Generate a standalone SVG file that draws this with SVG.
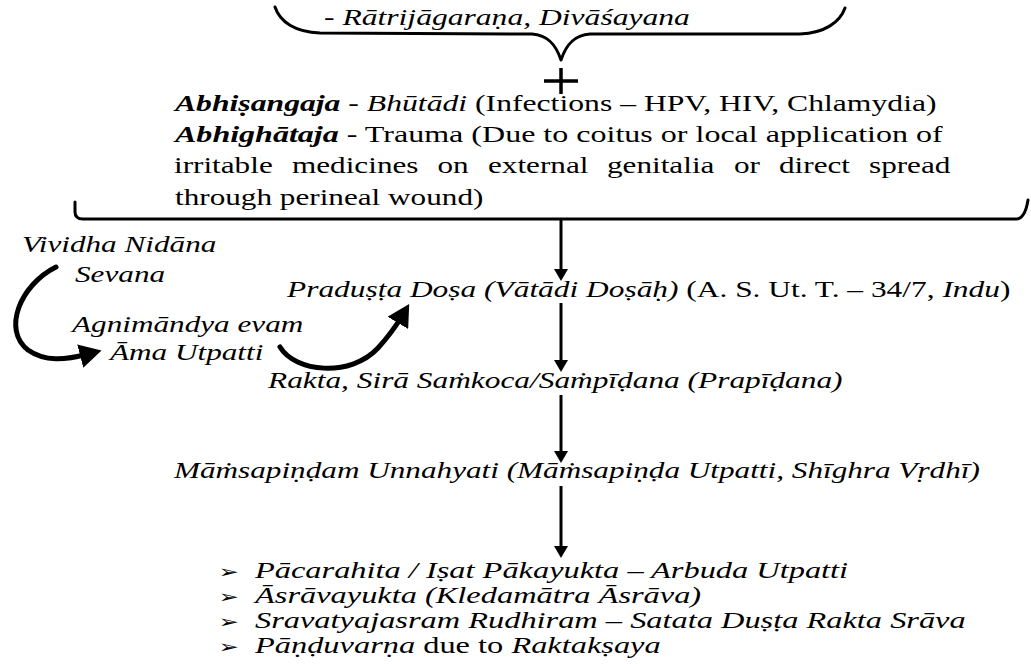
<svg xmlns="http://www.w3.org/2000/svg" width="1031" height="664" viewBox="0 0 1031 664">
<style>
.t{font-size:24px;fill:#000}
.i{font-style:italic}
.bi{font-weight:bold;font-style:italic}
.b{font-family:'DejaVu Sans';font-style:normal;font-size:18px}
.ln{stroke:#000;stroke-width:3;fill:none;stroke-linecap:round;stroke-linejoin:round}
.arr{stroke:#000;stroke-width:3;fill:none;marker-end:url(#ah)}
.carr{stroke:#000;stroke-width:5;fill:none;stroke-linecap:round;marker-end:url(#bh)}
</style>
<defs>
<marker id="ah" markerUnits="userSpaceOnUse" viewBox="0 0 12 14" refX="6" refY="7" markerWidth="12" markerHeight="14" orient="auto"><path d="M0,0 L12,7 L0,14 z" fill="#000"/></marker>
<marker id="bh" markerUnits="userSpaceOnUse" viewBox="0 0 22 24" refX="8" refY="12" markerWidth="22" markerHeight="24" orient="auto"><path d="M0,0 L22,12 L0,24 z" fill="#000"/></marker>
</defs>
<rect width="1031" height="664" fill="#fff"/>

<g id="braces">
<path class="ln" d="M275,7 C280,22 295,32 320,33 L532,34 C548,35 556,45 561,60 C566,45 574,35 590,34 L800,34 C825,33 840,22 845,8"/>
<path class="ln" d="M75,202 L75,212 Q75,219 83,219 L1016,219 Q1025,219 1028,200"/>
</g>

<g id="n-top">
<text class="t" font-family="Liberation Serif" transform="translate(324 25) scale(1.317 1)">- <tspan class="i">Rātrijāgaraṇa, Divāśayana</tspan></text>
</g>

<g id="n-plus">
<path d="M544,81 H578 M561,68 V94" stroke="#000" stroke-width="3.5" fill="none"/>
</g>

<g id="n-causes">
<text class="t" font-family="Liberation Serif" transform="translate(175 111) scale(1.32 1)"><tspan class="bi">Abhiṣangaja</tspan> - <tspan class="i">Bhūtādi</tspan> (Infections – HPV, HIV, Chlamydia)</text>
<text class="t" font-family="Liberation Serif" transform="translate(175 142) scale(1.335 1)"><tspan class="bi">Abhighātaja</tspan> - Trauma (Due to coitus or local application of</text>
<text class="t" font-family="Liberation Serif" transform="translate(174 173) scale(1.3 1)">irritable</text>
<text class="t" font-family="Liberation Serif" transform="translate(292 173) scale(1.3 1)">medicines</text>
<text class="t" font-family="Liberation Serif" transform="translate(437.5 173) scale(1.3 1)">on</text>
<text class="t" font-family="Liberation Serif" transform="translate(488 173) scale(1.3 1)">external</text>
<text class="t" font-family="Liberation Serif" transform="translate(607 173) scale(1.3 1)">genitalia</text>
<text class="t" font-family="Liberation Serif" transform="translate(734 173) scale(1.3 1)">or</text>
<text class="t" font-family="Liberation Serif" transform="translate(779 173) scale(1.3 1)">direct</text>
<text class="t" font-family="Liberation Serif" transform="translate(869 173) scale(1.3 1)">spread</text>
<text class="t" font-family="Liberation Serif" transform="translate(175 205) scale(1.3 1)">through perineal wound)</text>
</g>

<g id="n-vividha">
<text class="t i" font-family="Liberation Serif" transform="translate(22 252) scale(1.3 1)">Vividha Nidāna</text>
<text class="t i" font-family="Liberation Serif" transform="translate(75 282) scale(1.3 1)">Sevana</text>
</g>

<g id="n-agni">
<text class="t i" font-family="Liberation Serif" transform="translate(72 332) scale(1.3 1)">Agnimāndya evam</text>
<text class="t i" font-family="Liberation Serif" transform="translate(110 360) scale(1.3 1)">Āma Utpatti</text>
</g>

<g id="n-pradushta">
<text class="t" font-family="Liberation Serif" transform="translate(287 297) scale(1.308 1)"><tspan class="i">Praduṣṭa Doṣa (Vātādi Doṣāḥ)</tspan> (A. S. Ut. T. – 34/7, <tspan class="i">Indu</tspan>)</text>
</g>

<g id="n-rakta">
<text class="t i" font-family="Liberation Serif" transform="translate(268 388) scale(1.307 1)">Rakta, Sirā Saṁkoca/Saṁpīḍana (Prapīḍana)</text>
</g>

<g id="n-mamsa">
<text class="t i" font-family="Liberation Serif" transform="translate(174 478) scale(1.3 1)">Māṁsapiṇḍam Unnahyati (Māṁsapiṇḍa Utpatti, Shīghra Vṛdhī)</text>
</g>

<g id="n-features">
<text class="t i" font-family="Liberation Serif" transform="translate(255 578) scale(1.35 1)"><tspan class="b" x="-27">➢</tspan><tspan x="0">Pācarahita / Iṣat Pākayukta – Arbuda Utpatti</tspan></text>
<text class="t i" font-family="Liberation Serif" transform="translate(255 603) scale(1.35 1)"><tspan class="b" x="-27">➢</tspan><tspan x="0">Āsrāvayukta (Kledamātra Āsrāva)</tspan></text>
<text class="t i" font-family="Liberation Serif" transform="translate(255 628) scale(1.35 1)"><tspan class="b" x="-27">➢</tspan><tspan x="0">Sravatyajasram Rudhiram – Satata Duṣṭa Rakta Srāva</tspan></text>
<text class="t" font-family="Liberation Serif" transform="translate(255 653) scale(1.35 1)"><tspan class="b" x="-27">➢</tspan><tspan x="0" class="i">Pāṇḍuvarṇa</tspan> due to <tspan class="i">Raktakṣaya</tspan></text>
</g>

<g id="connectors">
<line class="arr" x1="561" y1="219" x2="561" y2="275"/>
<line class="arr" x1="561" y1="303" x2="561" y2="366"/>
<line class="arr" x1="561" y1="395" x2="561" y2="457"/>
<line class="arr" x1="561" y1="486" x2="561" y2="552"/>
<path class="carr" d="M56,267 C20,285 2,330 28,350 C45,362 65,360 88,354"/>
<path class="carr" d="M280,347 C295,372 350,378 378,348 C388,337 396,326 402,316"/>
</g>
</svg>
